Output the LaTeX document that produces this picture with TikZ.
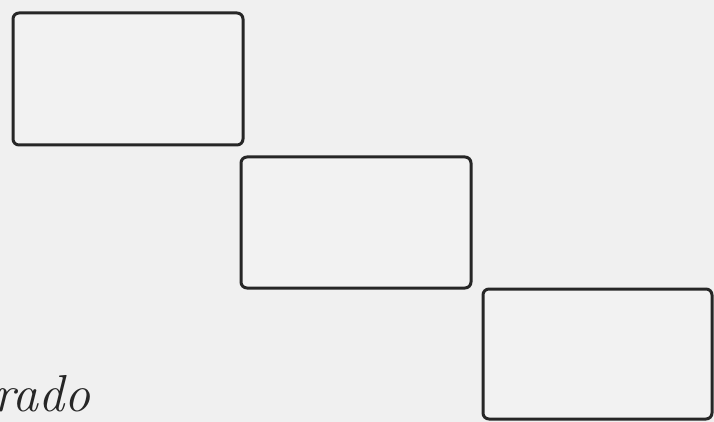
\documentclass[tikz,border=0pt]{standalone}
\begin{document}
\begin{tikzpicture}[x=1pt,y=-1pt,
  panel/.style={draw=black!85,line width=3pt,rounded corners=6pt,fill=black!5,rectangle,inner sep=0pt}]
\useasboundingbox (0,0) rectangle (714,422);
\clip (0,0) rectangle (714,422);
\fill[black!6] (0,0) rectangle (714,422);
\node[panel,minimum width=230pt,minimum height=132pt] (b1) at (128,79) {};
\node[panel,minimum width=230pt,minimum height=131pt] (b2) at (356,222.5) {};
\node[panel,minimum width=229pt,minimum height=130pt] (b3) at (597.5,354) {};
\node[anchor=base east,inner sep=0pt,font=\itshape\fontsize{52}{52}\selectfont,text=black!85] (t) at (91,411) {rado};
\end{tikzpicture}
\end{document}
